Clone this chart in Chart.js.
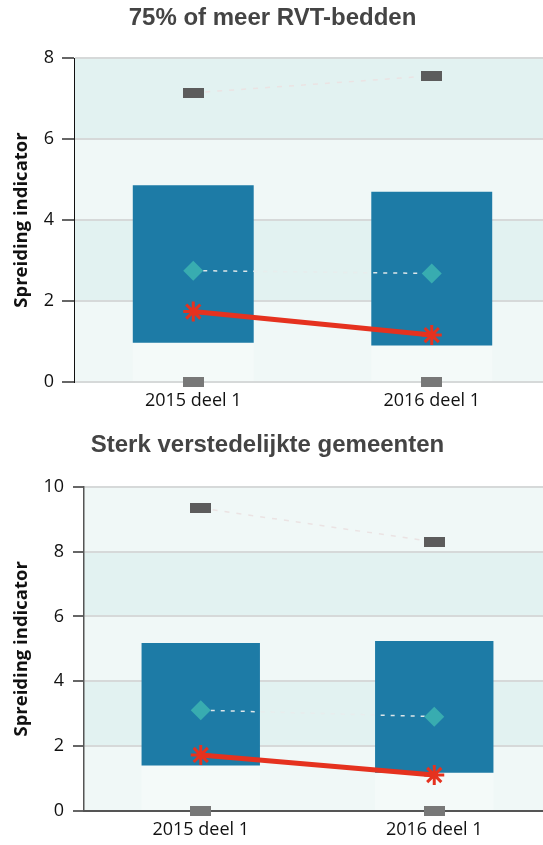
<!DOCTYPE html>
<html><head><meta charset="utf-8">
<script src="https://cdn.jsdelivr.net/npm/chart.js@4"></script>
<style>
html,body{margin:0;padding:0;background:#fff;overflow:hidden;width:543px;height:845px;position:relative;}
.box{position:absolute;}
#b1{top:0;left:-6px;width:557px;height:420px}
#b2{top:420px;left:-16px;width:567px;height:425px}
canvas{display:block}
</style></head><body>
<div class="box" id="b1"><canvas id="c1" width="557" height="420"></canvas></div>
<div class="box" id="b2"><canvas id="c2" width="567" height="425"></canvas></div>
<script>
const categories = ['2015 deel 1', '2016 deel 1'];
const yTicks1 = [0, 2, 4, 6, 8];
const yTicks2 = [0, 2, 4, 6, 8, 10];

// Chart 1: 75% of meer RVT-bedden
const title1 = '75% of meer RVT-bedden';
const boxLow1 = [0.97, 0.90];
const boxHigh1 = [4.86, 4.70];
const max1 = [7.14, 7.56];
const min1 = [0, 0];
const mean1 = [2.75, 2.68];
const own1 = [1.74, 1.16];

// Chart 2: Sterk verstedelijkte gemeenten
const title2 = 'Sterk verstedelijkte gemeenten';
const boxLow2 = [1.40, 1.18];
const boxHigh2 = [5.18, 5.24];
const max2 = [9.34, 8.30];
const min2 = [0, 0];
const mean2 = [3.11, 2.91];
const own2 = [1.73, 1.11];

const yTitle = 'Spreiding indicator';

function marker(color){
  const c = document.createElement('canvas');
  c.width = 21; c.height = 10;
  const x = c.getContext('2d');
  x.fillStyle = color; x.fillRect(0,0,21,10);
  return c;
}
const mDark = marker('#5c5c5c');
const mLight = marker('#787878');

const bands = {
  id:'bands',
  beforeDraw(chart){
    const {ctx, chartArea:a, scales:{y}} = chart;
    ctx.save();
    for (let v = y.min; v < y.max; v += 2){
      const top = y.getPixelForValue(v+2), bot = y.getPixelForValue(v);
      ctx.fillStyle = ((v/2) % 2) ? '#e2f2f1' : '#f0f8f7';
      ctx.fillRect(a.left, top, a.right - a.left, bot - top);
    }
    ctx.restore();
  }
};

function build(id, cfg){
  const datasets = [
    {type:'bar', data: categories.map((_,i)=>[cfg.low[i], cfg.high[i]]), backgroundColor:'#1d7ba6',
     grouped:false, order:10, barPercentage:1, categoryPercentage:0.507},
    {type:'bar', data: categories.map((_,i)=>[0, cfg.low[i]]), backgroundColor:'rgba(255,255,255,0.3)',
     grouped:false, order:11, barPercentage:1, categoryPercentage:0.507},
    {type:'line', data: cfg.max, borderColor:'#ebe3e3', borderDash:[5,7], borderWidth:1.5,
     pointStyle:mDark, pointRadius:10, order:3, clip:false},
    {type:'line', data: cfg.min, showLine:false, pointStyle:mLight, pointRadius:10, order:4, clip:false},
    {type:'line', data: cfg.mean, borderColor:'rgba(232,236,236,0.95)', borderDash:[4,6], borderWidth:1.5,
     pointStyle:'rectRot', pointRadius:10, pointBackgroundColor:'#38acb0', pointBorderWidth:0, order:2, clip:false},
    {type:'line', data: cfg.own, borderColor:'#e5321f', borderWidth:5,
     pointStyle:'star', pointRadius:10, pointBorderColor:'#e5321f', pointBorderWidth:3, order:1, clip:false}
  ];
  return new Chart(document.getElementById(id), {
    data:{labels:categories, datasets},
    plugins:[bands],
    options:{
      responsive:false, animation:false, devicePixelRatio:1,
      layout:{padding:0, autoPadding:false},
      plugins:{
        legend:{display:false}, tooltip:{enabled:false},
        title:{display:true, text:cfg.title, color:'#444',
          font:{family:'Liberation Sans', size:24, weight:'bold'},
          padding:{top:cfg.tTop, bottom:cfg.tBottom}}
      },
      scales:{
        x:{offset:true, grid:{display:false, drawTicks:false},
           border:cfg.xBorder,
           ticks:{color:'#111', font:{family:'Open Sans', size:18}, padding:8, maxRotation:0},
           afterFit(s){ s.height = cfg.xH; s.paddingLeft = 0; s.paddingRight = 0; }},
        y:{min:0, max:cfg.ymax,
           afterBuildTicks(s){ s.ticks = cfg.ticks.map(v=>({value:v})); },
           ticks:{color:'#111', font:{family:'Open Sans', size:18}, padding:cfg.tickPad},
           grid:{color:'#d6d9d9', lineWidth:2, tickColor:'#666', tickLength:cfg.tickLen, tickWidth:2},
           border:cfg.yBorder,
           title:{display:true, text:yTitle, color:'#111',
             font:{family:'Open Sans', size:18.5, weight:'bold'}, padding:{top:cfg.yTitlePad, bottom:0}},
           afterFit(s){ s.width = cfg.yW; }}
      }
    }
  });
}

build('c1', {title:title1, low:boxLow1, high:boxHigh1, max:max1, min:min1, mean:mean1, own:own1,
  ymax:8, ticks:yTicks1, tTop:3.6, tBottom:25.6, xH:38, yW:80, tickLen:12, tickPad:8, yTitlePad:16.4,
  xBorder:{display:false}, yBorder:{color:'#111', width:1}});
build('c2', {title:title2, low:boxLow2, high:boxHigh2, max:max2, min:min2, mean:mean2, own:own2,
  ymax:10, ticks:yTicks2, tTop:10.6, tBottom:27.3, xH:34, yW:100, tickLen:11, tickPad:9, yTitlePad:26.9,
  xBorder:{display:true, color:'#555', width:2}, yBorder:{color:'#555', width:1.5}});
</script>
</body></html>
